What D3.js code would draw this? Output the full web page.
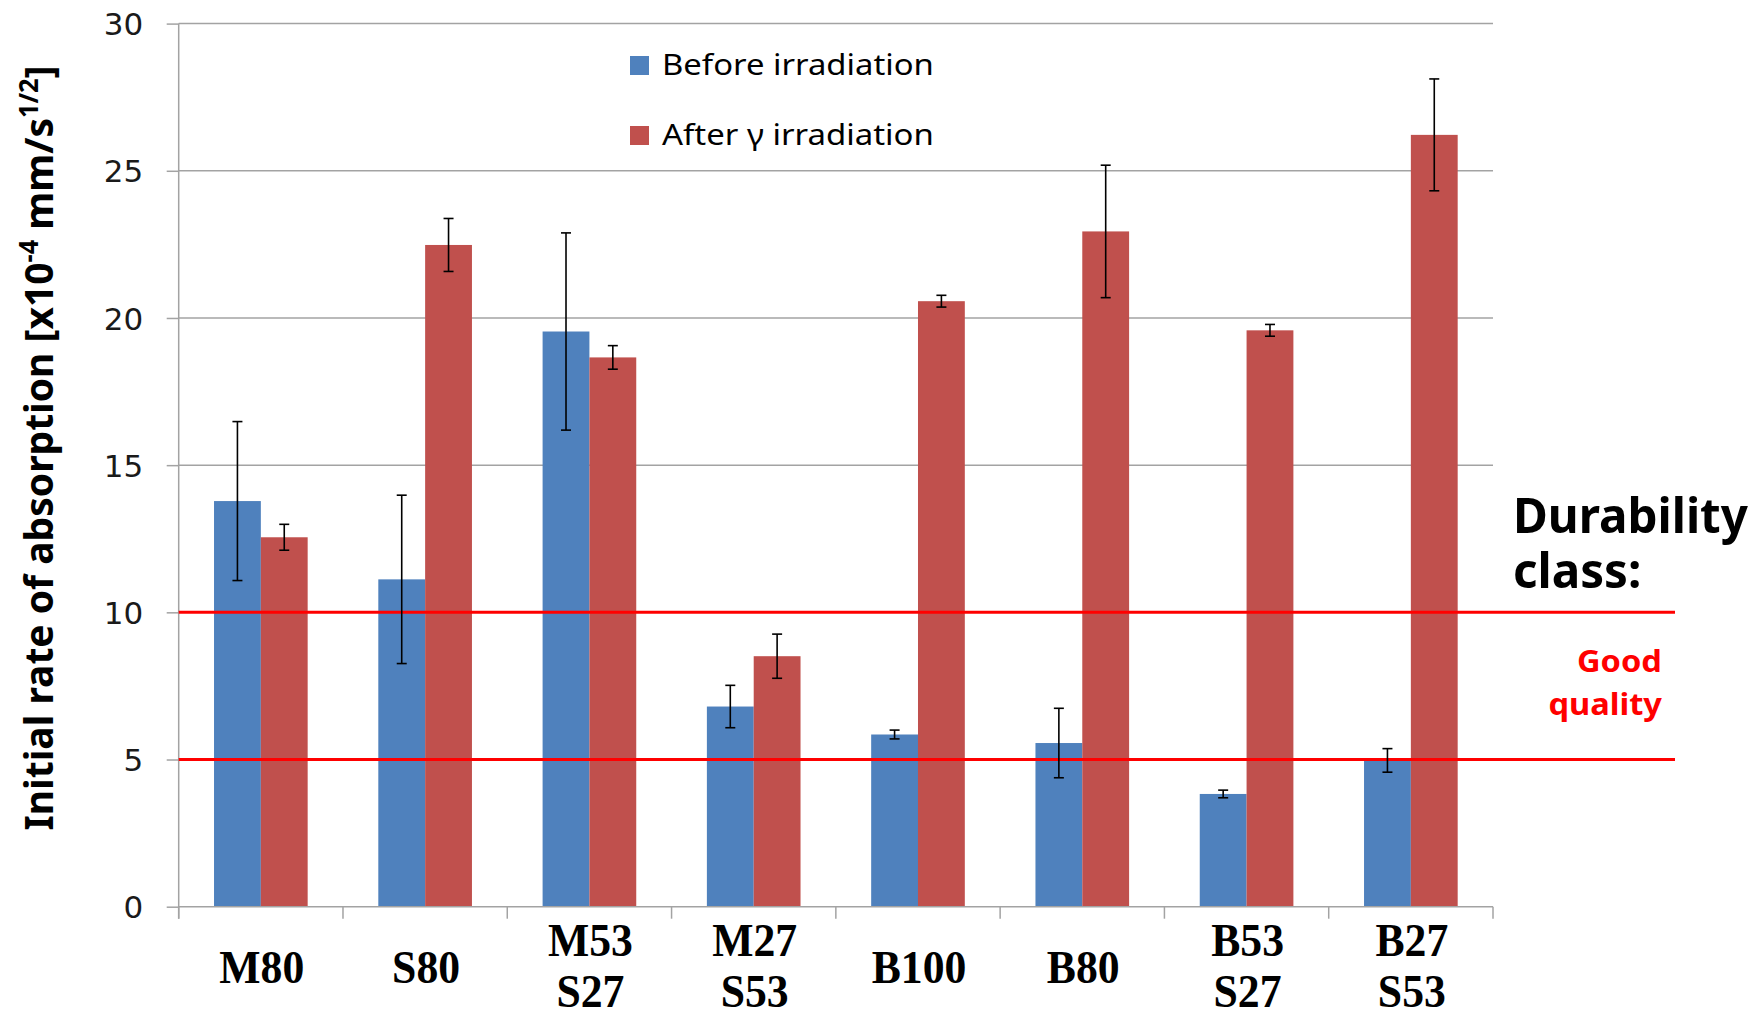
<!DOCTYPE html>
<html>
<head>
<meta charset="utf-8">
<script src="https://cdn.jsdelivr.net/npm/d3@7"></script>
<style>
  html, body { margin: 0; padding: 0; background: #fff; }
  svg { display: block; }
</style>
</head>
<body>
<svg id="chart" width="1762" height="1011"></svg>
<script>
// ---- data ----
const categories = ["M80", "S80", "M53 S27", "M27 S53", "B100", "B80", "B53 S27", "B27 S53"];
const seriesNames = ["Before irradiation", "After γ irradiation"];
const beforeValues = [13.78, 11.12, 19.54, 6.80, 5.85, 5.56, 3.83, 4.97];
const beforeErrors = [2.70, 2.86, 3.35, 0.72, 0.15, 1.18, 0.13, 0.40];
const afterValues  = [12.55, 22.48, 18.66, 8.51, 20.57, 22.94, 19.58, 26.22];
const afterErrors  = [0.44, 0.90, 0.40, 0.75, 0.20, 2.25, 0.20, 1.90];
const yTicks = [0, 5, 10, 15, 20, 25, 30];
const thresholds = [5, 10];
const classTitle = ["Durability", "class:"];
const classLabel = ["Good", "quality"];

// ---- layout ----
const svg = d3.select("#chart");
const plotLeft = 178.7, plotRight = 1493, plotTop = 23.6, plotBottom = 906.7;
const colors = ["#4F81BD", "#C0504D"];
const gridColor = "#A3A3A3";

const x = d3.scaleBand().domain(categories).range([plotLeft, plotRight]).paddingInner(0).paddingOuter(0);
const bw = x.bandwidth();
const padSide = bw * 0.215;
const xs = d3.scaleBand().domain(seriesNames).range([padSide, bw - padSide]);
const y = d3.scaleLinear().domain([0, 30]).range([plotBottom, plotTop]);

function fitX(sel, targetW, ax) {
  const w = sel.node().getBBox().width;
  const s = targetW / w;
  sel.attr("transform", `translate(${ax},0) scale(${s},1) translate(${-ax},0)`);
  return s;
}

// gridlines / y ticks
const yAxis = d3.axisLeft(y).tickValues(yTicks).tickSize(12).tickFormat(d3.format("d"));
const gy = svg.append("g").attr("transform", `translate(${plotLeft},0)`).call(yAxis);
gy.select(".domain").remove();
gy.selectAll(".tick line").attr("stroke", gridColor).attr("stroke-width", 1.5);
gy.selectAll(".tick text")
  .attr("x", -35.5)
  .attr("dy", "0.36em")
  .attr("font-family", "DejaVu Sans")
  .attr("font-size", 31)
  .attr("fill", "#1a1a1a");
svg.append("g").selectAll("line").data(yTicks.filter(d => d > 0)).join("line")
  .attr("x1", plotLeft).attr("x2", plotRight)
  .attr("y1", d => y(d)).attr("y2", d => y(d))
  .attr("stroke", gridColor).attr("stroke-width", 1.5);

// bars
const seriesData = [
  { name: seriesNames[0], values: beforeValues, errors: beforeErrors, color: colors[0] },
  { name: seriesNames[1], values: afterValues, errors: afterErrors, color: colors[1] }
];
const barG = svg.append("g");
seriesData.forEach(s => {
  barG.append("g").selectAll("rect").data(categories).join("rect")
    .attr("x", (c) => x(c) + xs(s.name))
    .attr("width", xs.bandwidth())
    .attr("y", (c, i) => y(s.values[i]))
    .attr("height", (c, i) => y(0) - y(s.values[i]))
    .attr("fill", s.color);
});

// x axis
const xAxis = d3.axisBottom(x).tickSize(0).tickFormat("");
const gx = svg.append("g").attr("transform", `translate(0,${plotBottom})`).call(xAxis);
gx.select(".domain").attr("stroke", gridColor).attr("stroke-width", 1.5).attr("d", `M${plotLeft},0H${plotRight}`);
gx.selectAll(".tick").remove();
const boundaries = d3.range(categories.length + 1).map(i => plotLeft + i * bw);
svg.append("g").selectAll("line").data(boundaries).join("line")
  .attr("x1", d => d).attr("x2", d => d)
  .attr("y1", plotBottom).attr("y2", plotBottom + 12)
  .attr("stroke", gridColor).attr("stroke-width", 1.5);
// y axis line
svg.append("line").attr("x1", plotLeft).attr("x2", plotLeft).attr("y1", plotTop).attr("y2", plotBottom + 12)
  .attr("stroke", gridColor).attr("stroke-width", 1.5);

// threshold lines
svg.append("g").selectAll("line").data(thresholds).join("line")
  .attr("x1", plotLeft).attr("x2", 1675)
  .attr("y1", d => y(d)).attr("y2", d => y(d))
  .attr("stroke", "#FF0000").attr("stroke-width", 3);

// error bars
const capW = 10;
seriesData.forEach(s => {
  const eg = svg.append("g").attr("stroke", "#000").attr("stroke-width", 1.6);
  categories.forEach((c, i) => {
    const cx = x(c) + xs(s.name) + xs.bandwidth() / 2;
    const hi = y(s.values[i] + s.errors[i]), lo = y(s.values[i] - s.errors[i]);
    eg.append("line").attr("x1", cx).attr("x2", cx).attr("y1", hi).attr("y2", lo);
    eg.append("line").attr("x1", cx - capW / 2).attr("x2", cx + capW / 2).attr("y1", hi).attr("y2", hi);
    eg.append("line").attr("x1", cx - capW / 2).attr("x2", cx + capW / 2).attr("y1", lo).attr("y2", lo);
  });
});

// category labels
const catG = svg.append("g");
categories.forEach(c => {
  const lines = c.split(" ");
  const cx = x(c) + bw / 2 + 1;
  const baselines = lines.length === 1 ? [983] : [956, 1007];
  lines.forEach((ln, j) => {
    const t = catG.append("text")
      .attr("x", cx).attr("y", baselines[j])
      .attr("text-anchor", "middle")
      .attr("font-family", "Liberation Serif, Times New Roman, serif")
      .attr("font-weight", "bold")
      .attr("font-size", 47)
      .attr("fill", "#000")
      .text(ln);
    const w = t.node().getBBox().width;
    fitX(t, w * 0.93, cx);
  });
});

// y axis title
const tg = svg.append("g").attr("transform", "translate(53,448) rotate(-90)");
const title = tg.append("text")
  .attr("x", 0).attr("y", 0)
  .attr("text-anchor", "middle")
  .attr("font-family", "Noto Sans, Open Sans, sans-serif")
  .attr("font-weight", "bold")
  .attr("font-size", 40)
  .attr("fill", "#000");
title.append("tspan").text("Initial rate of absorption [x10");
title.append("tspan").attr("font-size", 26).attr("dy", -15).text("-4");
title.append("tspan").attr("dy", 15).text(" mm/s");
title.append("tspan").attr("font-size", 26).attr("dy", -15).text("1/2");
title.append("tspan").attr("dy", 15).text("]");
fitX(title, 765, 0);

// legend
const legendYs = [75, 145];
seriesData.forEach((s, i) => {
  svg.append("rect").attr("x", 630).attr("y", legendYs[i] - 19).attr("width", 19).attr("height", 19).attr("fill", s.color);
  const t = svg.append("text")
    .attr("x", 662).attr("y", legendYs[i])
    .attr("font-family", "Noto Sans, Open Sans, sans-serif")
    .attr("font-size", 28.5)
    .attr("fill", "#000")
    .text(s.name);
  fitX(t, 272, 662);
});

// durability class annotation
const d1 = svg.append("text").attr("x", 1513).attr("y", 533)
  .attr("font-family", "Noto Sans, Open Sans, sans-serif").attr("font-weight", "bold")
  .attr("font-size", 49).attr("fill", "#000").text(classTitle[0]);
const sD = fitX(d1, 235, 1513);
svg.append("text").attr("x", 1513).attr("y", 588)
  .attr("font-family", "Noto Sans, Open Sans, sans-serif").attr("font-weight", "bold")
  .attr("font-size", 49).attr("fill", "#000").text(classTitle[1])
  .attr("transform", `translate(1513,0) scale(${sD},1) translate(-1513,0)`);

const g1 = svg.append("text").attr("x", 1662).attr("y", 672)
  .attr("text-anchor", "end")
  .attr("font-family", "Noto Sans, Open Sans, sans-serif").attr("font-weight", "bold")
  .attr("font-size", 30).attr("fill", "#FF0000").text(classLabel[0]);
const sG = fitX(g1, 85, 1662);
svg.append("text").attr("x", 1662).attr("y", 715)
  .attr("text-anchor", "end")
  .attr("font-family", "Noto Sans, Open Sans, sans-serif").attr("font-weight", "bold")
  .attr("font-size", 30).attr("fill", "#FF0000").text(classLabel[1])
  .attr("transform", `translate(1662,0) scale(${sG},1) translate(-1662,0)`);
</script>
</body>
</html>
